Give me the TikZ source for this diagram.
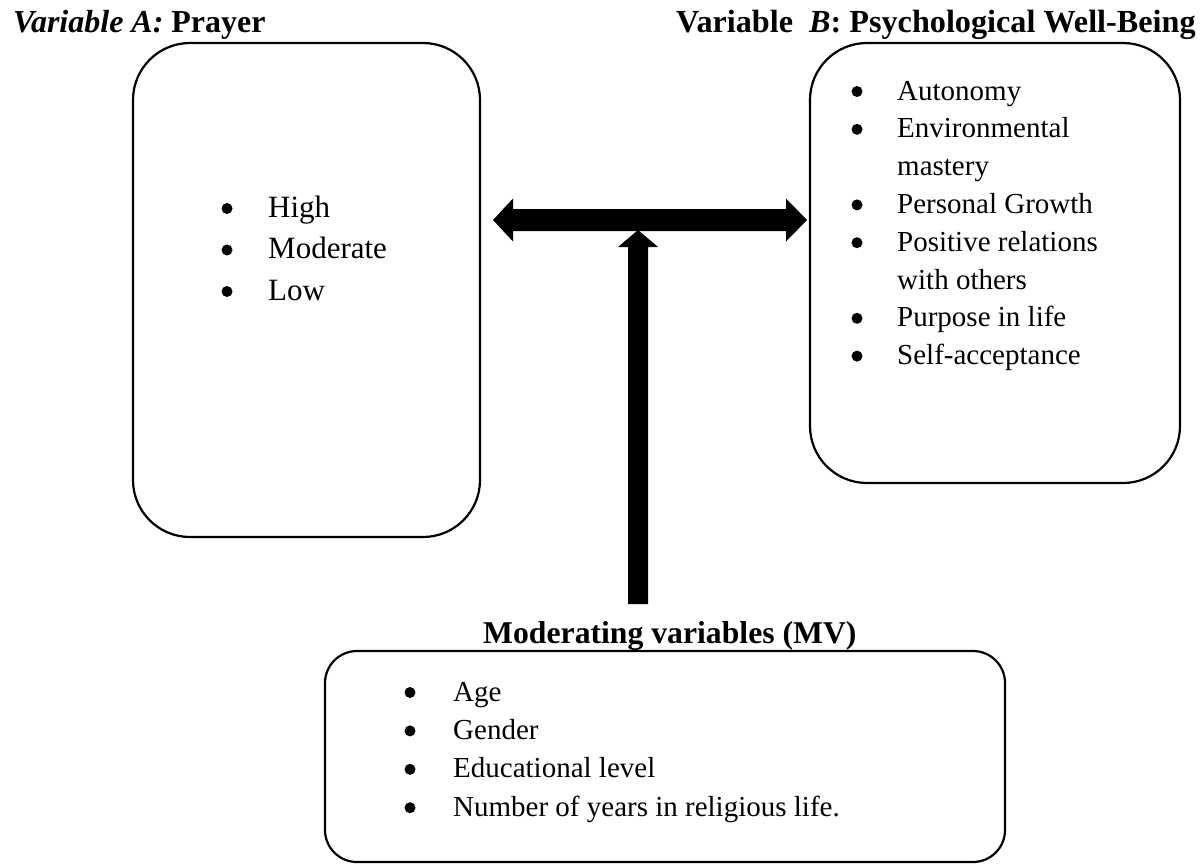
\documentclass[tikz,border=0pt]{standalone}
\usepackage{fontspec}
\setmainfont{Liberation Serif}
\usetikzlibrary{calc}
\begin{document}
\begin{tikzpicture}[x=1pt,y=-1pt,
  box/.style={draw, line width=2.2pt, rounded corners=57pt, inner sep=0pt},
  ttl/.style={font=\fontsize{31.7}{38}\selectfont\bfseries, inner sep=0pt, anchor=base west},
  itemL/.style={font=\fontsize{31}{37}\selectfont, inner sep=0pt, anchor=base west},
  itemS/.style={font=\fontsize{29}{35}\selectfont, inner sep=0pt, anchor=base west},
  bul/.style={circle, fill=black, inner sep=0pt, minimum size=11pt},
  fat/.style={fill=black}]
\useasboundingbox (0,0) rectangle (1204,863);

% boxes
\node[box, minimum width=347pt, minimum height=494pt] (A) at (306.5,290) {};
\node[box, minimum width=370pt, minimum height=440pt] (B) at (995,263) {};
\node[box, rounded corners=32pt, minimum width=680pt, minimum height=211pt] (C) at (665,756.5) {};

% titles
\node[ttl, font=\fontsize{32}{38}\selectfont\bfseries] (tA) at (13,32) {\textit{Variable A:} Prayer};
\node[ttl, font=\fontsize{32.2}{38}\selectfont\bfseries] (tB) at (676,32) {Variable\ \ \textit{B}: Psychological Well-Being};
\node[ttl] (tC) at (483,643) {Moderating variables (MV)};

% left box items
\foreach \t [count=\i] in {High, Moderate, Low}{
  \pgfmathsetmacro{\yy}{217+41.5*(\i-1)}
  \node[bul] (ba\i) at (227,\yy-8.5) {};
  \node[itemL] (a\i) at (268,\yy) {\t};
}

% right box items
\foreach \t/\b [count=\i] in {Autonomy/1, Environmental/1, mastery/0, Personal Growth/1, Positive relations/1, with others/0, Purpose in life/1, Self-acceptance/1}{
  \pgfmathsetmacro{\yy}{100+37.8*(\i-1)}
  \ifnum\b=1 \node[bul] (bb\i) at (857,\yy-8.5) {};\fi
  \node[itemS] (b\i) at (897,\yy) {\t};
}

% bottom box items
\foreach \t [count=\i] in {Age, Gender, Educational level, Number of years in religious life.}{
  \pgfmathsetmacro{\yy}{701+38.4*(\i-1)}
  \node[bul] (bc\i) at (410,\yy-8.5) {};
  \node[itemS] (c\i) at (453,\yy) {\t};
}

% arrows
\coordinate (L) at (493,220);
\coordinate (R) at (807,220);
\coordinate (T) at (638,230);
\coordinate (S) at (638,604);
\fill[fat] (L) -- ++(20,-21.5) -- ++(0,10.5) -- ($(R)+(-21,-11)$) -- ++(0,-10.5) -- (R)
  -- ++(-21,21.5) -- ++(0,-10.5) -- ($(L)+(20,11)$) -- ++(0,10.5) -- cycle;
\fill[fat] (T) -- ++(20,17) -- ++(-10,0) -- ($(S)+(10,0)$) -- ++(-20,0) -- ($(T)+(-10,17)$) -- ++(-10,0) -- cycle;
\end{tikzpicture}
\end{document}
